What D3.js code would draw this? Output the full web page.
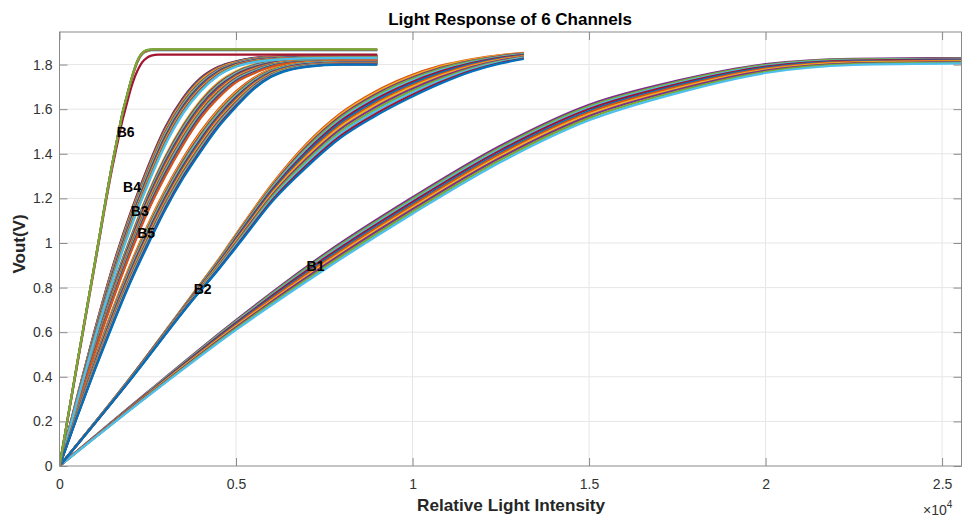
<!DOCTYPE html>
<html>
<head>
<meta charset="utf-8">
<script src="https://cdn.jsdelivr.net/npm/d3@7"></script>
<style>
  body { margin: 0; background: #fff; }
  svg { font-family: "Liberation Sans", Arial, Helvetica, sans-serif; }
</style>
</head>
<body>
<svg id="chart" width="963" height="517"></svg>
<script>
// matlab default line colours
const colors = ["#0072BD", "#D95319", "#EDB120", "#7E2F8E", "#77AC30", "#4DBEEE", "#A2142F"];

const xTicks = [0, 5000, 10000, 15000, 20000, 25000];
const xTickLabels = ["0", "0.5", "1", "1.5", "2", "2.5"];
const yTicks = [0, 0.2, 0.4, 0.6, 0.8, 1, 1.2, 1.4, 1.6, 1.8];

// each channel: intensity grid, lower and upper edge of the bundle, position of every trace inside it
const b1U  = [0, 2500, 5000, 7500, 10000, 12500, 15000, 17500, 20000, 22500, 25550];
const b1Lo = [0, 0.312, 0.61, 0.88, 1.131, 1.363, 1.55, 1.672, 1.762, 1.798, 1.805];
const b1Hi = [0, 0.332, 0.654, 0.95, 1.205, 1.437, 1.62, 1.728, 1.802, 1.826, 1.829];
const b1Pos = [1, 0.9, 0.8, 0.72, 0.6, 0.5, 0.38, 0.27, 0.14, 0];

const b2U  = [0, 2000, 3700, 4500, 5200, 6050, 7000, 7950, 8900, 9850, 10800, 11700, 12500, 13150];
const b2Lo = [0, 0.385, 0.73, 0.88, 1.02, 1.19, 1.34, 1.47, 1.565, 1.645, 1.715, 1.77, 1.805, 1.825];
const b2Hi = [0, 0.395, 0.755, 0.925, 1.085, 1.27, 1.445, 1.58, 1.675, 1.745, 1.795, 1.825, 1.843, 1.852];
const b2Pos = [1, 0.95, 0.88, 0.82, 0.75, 0.68, 0.6, 0.52, 0.45, 0.36, 0.27, 0.18, 0.08, 0];

const b35U  = [0, 500, 1000, 1500, 2000, 2500, 3000, 3500, 4000, 4500, 5000, 5500, 6000, 6500, 7000, 8000, 9000];
const b3Lo = [0, 0.26, 0.51, 0.74, 0.95, 1.14, 1.3, 1.44, 1.56, 1.65, 1.72, 1.76, 1.79, 1.805, 1.81, 1.812, 1.812];
const b3Hi = [0, 0.28, 0.55, 0.8, 1.02, 1.22, 1.39, 1.53, 1.64, 1.72, 1.77, 1.8, 1.815, 1.822, 1.825, 1.825, 1.825];
const b3Pos = [1, 0.92, 0.85, 0.77, 0.7, 0.62, 0.55, 0.46, 0.38, 0.3, 0.22, 0.14, 0.07, 0];
const b4Lo = [0, 0.29, 0.57, 0.83, 1.06, 1.26, 1.44, 1.58, 1.68, 1.75, 1.79, 1.81, 1.82, 1.825, 1.828, 1.83, 1.83];
const b4Hi = [0, 0.31, 0.61, 0.89, 1.13, 1.34, 1.52, 1.65, 1.74, 1.79, 1.815, 1.83, 1.835, 1.838, 1.84, 1.84, 1.84];
const b4Pos = [1, 0.93, 0.86, 0.78, 0.7, 0.63, 0.55, 0.47, 0.39, 0.31, 0.23, 0.15, 0.07, 0];
const b5Lo = [0, 0.22, 0.43, 0.63, 0.82, 0.99, 1.15, 1.29, 1.41, 1.52, 1.61, 1.69, 1.745, 1.775, 1.79, 1.80, 1.80];
const b5Hi = [0, 0.245, 0.48, 0.7, 0.9, 1.08, 1.24, 1.38, 1.5, 1.6, 1.68, 1.74, 1.78, 1.8, 1.81, 1.815, 1.815];
const b5Pos = [1, 0.92, 0.84, 0.77, 0.69, 0.61, 0.54, 0.46, 0.38, 0.3, 0.22, 0.15, 0.07, 0];

const b6U  = [0, 500, 1000, 1500, 1700, 1800, 1900, 2000, 2100, 2200, 2300, 2400, 2500, 2600, 2800, 3000, 9000];
const b6Lo = [0, 0.45, 0.9, 1.34, 1.49, 1.56, 1.62, 1.68, 1.73, 1.77, 1.8, 1.82, 1.833, 1.84, 1.845, 1.845, 1.845];
const b6Hi = [0, 0.46, 0.91, 1.36, 1.52, 1.595, 1.655, 1.715, 1.77, 1.815, 1.845, 1.86, 1.866, 1.868, 1.868, 1.868, 1.868];
const b6Pos = [0, 0.86, 0.9, 0.93, 0.97, 1];

// first colour of each channel in the colour cycle
const colorStart = [3, 1, 2, 6, 1, 6];

const channels = [
    { u: b1U, lo: b1Lo, hi: b1Hi, pos: b1Pos },
    { u: b2U, lo: b2Lo, hi: b2Hi, pos: b2Pos },
    { u: b35U, lo: b3Lo, hi: b3Hi, pos: b3Pos },
    { u: b35U, lo: b4Lo, hi: b4Hi, pos: b4Pos },
    { u: b35U, lo: b5Lo, hi: b5Hi, pos: b5Pos },
    { u: b6U, lo: b6Lo, hi: b6Hi, pos: b6Pos }
];

// channel labels, placed at data coords like matlab text()
const labelNames = ["B1", "B2", "B3", "B4", "B5", "B6"];
const labelX = [7000, 3800, 2020, 1800, 2200, 1620];
const labelY = [0.895, 0.795, 1.145, 1.25, 1.045, 1.495];

const svg = d3.select("#chart");
const pLeft = 59.5, pTop = 32, pRight = 961.5, pBottom = 466;

const x = d3.scaleLinear().domain([0, 25550]).range([pLeft, pRight]);
const y = d3.scaleLinear().domain([0, 1.946]).range([pBottom, pTop]);

// grid
svg.append("g")
    .selectAll("line")
    .data(xTicks.slice(1))
    .enter().append("line")
    .attr("x1", d => x(d)).attr("x2", d => x(d))
    .attr("y1", pTop).attr("y2", pBottom)
    .attr("stroke", "#e6e6e6");
svg.append("g")
    .selectAll("line")
    .data(yTicks.slice(1))
    .enter().append("line")
    .attr("x1", pLeft).attr("x2", pRight)
    .attr("y1", d => y(d)).attr("y2", d => y(d))
    .attr("stroke", "#e6e6e6");

// traces
svg.append("clipPath").attr("id", "clip")
    .append("rect").attr("x", pLeft).attr("y", pTop)
    .attr("width", pRight - pLeft).attr("height", pBottom - pTop);

const line = d3.line()
    .x(d => x(d[0]))
    .y(d => y(d[1]))
    .curve(d3.curveMonotoneX);

const plot = svg.append("g").attr("clip-path", "url(#clip)");
channels.forEach((ch, k) => {
    ch.pos.forEach((t, j) => {
        const pts = ch.u.map((u, i) => [u, ch.lo[i] + t * (ch.hi[i] - ch.lo[i])]);
        plot.append("path")
            .attr("d", line(pts))
            .attr("fill", "none")
            .attr("stroke", colors[(colorStart[k] + j) % colors.length])
            .attr("stroke-width", 2.2)
            .attr("stroke-linejoin", "round");
    });
});

// box + axes
const axisColor = "#8a8a8a";
svg.append("rect")
    .attr("x", pLeft).attr("y", pTop)
    .attr("width", pRight - pLeft).attr("height", pBottom - pTop)
    .attr("fill", "none").attr("stroke", axisColor);

const xAxis = d3.axisBottom(x).tickValues(xTicks).tickFormat((d, i) => xTickLabels[i])
    .tickSizeInner(-8).tickSizeOuter(0).tickPadding(13);
const gx = svg.append("g").attr("transform", `translate(0,${pBottom})`).call(xAxis);
const xAxisTop = d3.axisTop(x).tickValues(xTicks).tickFormat("").tickSizeInner(-8).tickSizeOuter(0);
const gxt = svg.append("g").attr("transform", `translate(0,${pTop})`).call(xAxisTop);

const yAxis = d3.axisLeft(y).tickValues(yTicks).tickFormat(d => d3.format("~g")(d))
    .tickSizeInner(-8).tickSizeOuter(0).tickPadding(7);
const gy = svg.append("g").attr("transform", `translate(${pLeft},0)`).call(yAxis);
const yAxisRight = d3.axisRight(y).tickValues(yTicks).tickFormat("").tickSizeInner(-8).tickSizeOuter(0);
const gyr = svg.append("g").attr("transform", `translate(${pRight},0)`).call(yAxisRight);

[gx, gxt, gy, gyr].forEach(g => {
    g.select(".domain").remove();
    g.selectAll(".tick line").attr("stroke", axisColor);
    g.selectAll(".tick text").attr("fill", "#333").attr("font-size", 14)
        .attr("font-family", "Liberation Sans, Arial, sans-serif");
});

// channel labels
svg.append("g")
    .selectAll("text")
    .data(labelNames)
    .enter().append("text")
    .attr("x", (d, i) => x(labelX[i]))
    .attr("y", (d, i) => y(labelY[i]))
    .attr("dy", "0.35em")
    .attr("font-size", 14)
    .attr("font-weight", "bold")
    .attr("fill", "#000")
    .text(d => d);

// titles
svg.append("text")
    .attr("x", 510).attr("y", 25)
    .attr("text-anchor", "middle")
    .attr("font-size", 17).attr("font-weight", "bold").attr("fill", "#000")
    .text("Light Response of 6 Channels");

svg.append("text")
    .attr("x", 511).attr("y", 511)
    .attr("text-anchor", "middle")
    .attr("font-size", 17).attr("font-weight", "bold").attr("fill", "#262626")
    .attr("textLength", 188).attr("lengthAdjust", "spacingAndGlyphs")
    .text("Relative Light Intensity");

svg.append("text")
    .attr("transform", "translate(25,244) rotate(-90)")
    .attr("text-anchor", "middle")
    .attr("font-size", 17).attr("font-weight", "bold").attr("fill", "#262626")
    .text("Vout(V)");

// exponent
const expo = svg.append("text")
    .attr("x", 923).attr("y", 515)
    .attr("font-size", 14).attr("fill", "#333");
expo.append("tspan").text("\u00d710");
expo.append("tspan").attr("font-size", 10).attr("dy", -7).text("4");
</script>
</body>
</html>
